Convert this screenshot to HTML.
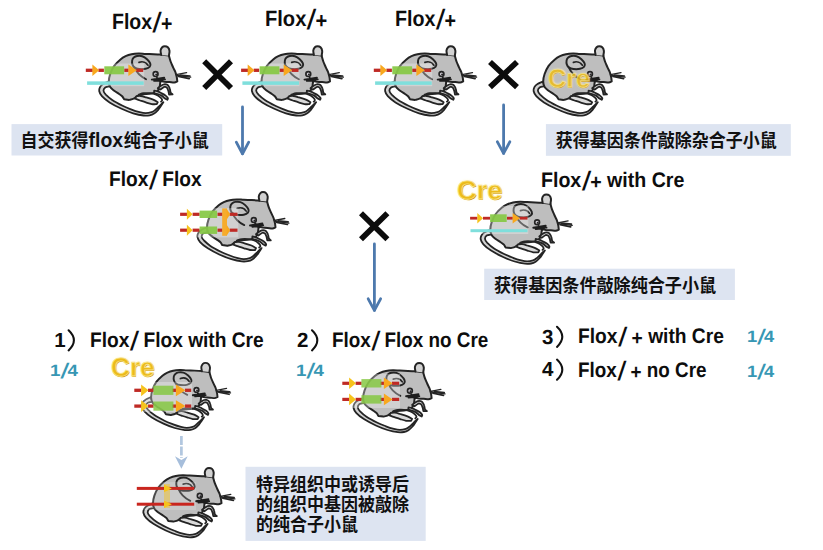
<!DOCTYPE html>
<html lang="zh"><head><meta charset="utf-8"><title>Flox / Cre breeding scheme</title>
<style>
html,body{margin:0;padding:0;background:#fff;}
body{width:823px;height:550px;position:relative;overflow:hidden;font-family:"Liberation Sans",sans-serif;}
svg{position:absolute;left:0;top:0;}
.t{position:absolute;white-space:pre;text-rendering:geometricPrecision;font-kerning:none;font-weight:bold;line-height:1;transform-origin:0 0;font-family:"Liberation Sans",sans-serif;}
.cre{-webkit-text-stroke:0.8px #f8e48c;text-shadow:0.6px 0.8px 0.4px #d09a14,0 0 3px rgba(255,246,200,.9);}
.on{opacity:.88;}
.sl{display:inline-block;transform:translateY(0.09em) scale(1.12,1.27) skewX(-13deg);transform-origin:50% 62%;margin:0 0.09em;}
.sq{margin:0 0.05em;}
.pl{display:inline-block;transform:translateY(0.1em);}
.cj{font-family:"Liberation Sans","Noto Sans CJK SC",sans-serif;font-weight:bold;fill:#111;}
</style></head><body>
<svg width="823" height="550" viewBox="0 0 823 550">
<defs>
<g id="mouse" stroke-linejoin="round" stroke-linecap="round" stroke="#242424">
 <path d="M543.0 81.5 C542.1 81.9 538.9 83.1 537.5 84.1 C536.1 85.0 535.0 86.0 534.4 87.2 C533.8 88.4 533.3 89.5 533.6 91.0 C533.9 92.5 534.6 94.3 536.3 96.2 C538.0 98.1 540.7 100.3 544.0 102.4 C547.3 104.5 552.1 107.0 556.0 108.8 C559.9 110.6 563.9 112.2 567.6 113.3 C571.3 114.4 575.3 115.2 578.0 115.5 C580.7 115.8 582.2 115.6 584.0 115.3 C585.8 115.0 587.1 114.5 588.5 113.6 C589.9 112.7 591.4 111.1 592.6 109.8 C593.8 108.5 594.7 106.9 595.6 105.6 C596.5 104.3 597.4 102.8 597.8 102.2 L596.6 103.2 C596.1 103.7 594.6 105.3 593.4 106.4 C592.2 107.5 590.8 109.0 589.6 110.0 C588.4 111.0 587.6 111.7 586.0 112.2 C584.4 112.7 582.0 113.2 580.0 113.2 C578.0 113.2 576.3 112.8 574.0 112.2 C571.7 111.6 568.8 110.7 566.0 109.6 C563.2 108.5 560.2 107.4 557.0 105.8 C553.8 104.2 549.4 101.9 546.6 100.0 C543.8 98.1 541.7 96.1 540.2 94.6 C538.8 93.1 538.0 92.0 537.9 90.8 C537.8 89.6 538.5 88.2 539.6 87.4 C540.7 86.6 543.7 86.4 544.5 86.2 Z" fill="#d2d2d2" stroke-width="1.8"/>
 <path d="M595.3 54.6 C594.1 54.5 590.5 54.3 588.0 54.2 C585.5 54.1 582.5 54.0 580.0 53.9 C577.5 53.8 575.3 53.4 573.0 53.5 C570.7 53.6 568.2 53.8 566.0 54.3 C563.8 54.8 561.9 55.4 560.0 56.2 C558.1 57.1 556.8 57.8 554.9 59.4 C553.0 61.0 550.3 63.4 548.6 65.8 C546.9 68.2 545.5 71.4 544.6 74.0 C543.7 76.6 543.2 79.4 543.2 81.6 C543.2 83.8 543.7 85.5 544.6 87.0 C545.5 88.5 547.1 89.6 548.6 90.8 C550.1 92.0 552.1 93.0 553.5 94.0 C554.9 95.0 556.0 95.6 556.8 96.5 C557.6 97.4 558.2 98.8 558.5 99.2 L563.5 99.9 C564.2 99.7 566.8 99.2 568.0 98.7 C569.2 98.2 569.7 97.3 571.0 96.6 C572.3 95.9 573.8 94.9 576.0 94.4 C578.2 93.9 581.7 94.1 584.0 93.8 C586.3 93.5 588.4 93.2 590.0 92.4 C591.6 91.6 592.8 90.1 593.5 88.8 C594.2 87.5 594.2 85.8 594.4 84.5 C594.6 83.2 594.7 81.5 594.8 80.9 L598.9 81.7 C599.7 81.8 602.2 82.0 603.8 82.1 C605.4 82.2 607.4 82.6 608.7 82.5 C610.0 82.4 611.2 81.6 611.7 81.4 L611.3 77.9 C611.2 77.4 610.8 75.7 610.5 74.6 C610.2 73.5 610.0 72.6 609.5 71.4 C609.0 70.2 608.2 69.0 607.5 67.3 C606.8 65.6 605.7 63.5 605.0 61.5 C604.3 59.5 603.6 56.6 603.3 55.6 Z" fill="#bebebe" stroke-width="2.0"/>
 <path d="M595.6 54.9 C595.5 54.1 594.8 51.7 595.0 50.4 C595.2 49.1 595.9 47.9 596.6 47.2 C597.3 46.5 598.3 46.2 599.2 46.2 C600.1 46.2 601.4 46.4 602.2 47.2 C603.0 48.0 603.7 49.4 603.9 50.8 C604.1 52.2 603.4 54.9 603.3 55.7" fill="#d2d2d2" stroke-width="2.0"/>
 <path d="M566.8 64.4 C566.4 63.2 566.4 61.5 566.6 60.4 C566.8 59.3 567.4 58.3 568.2 57.6 C569.0 56.9 570.1 56.2 571.5 56.0 C572.9 55.8 575.0 55.7 576.6 56.2 C578.2 56.7 580.1 58.0 581.4 59.2 C582.7 60.4 584.1 62.2 584.6 63.4 C585.1 64.6 585.0 65.7 584.2 66.6 C583.4 67.5 581.8 68.4 580.0 68.8 C578.2 69.2 575.4 69.2 573.5 69.0 C571.6 68.8 569.9 68.2 568.8 67.4 C567.7 66.6 567.2 65.6 566.8 64.4 Z" fill="#c3c3c3" stroke-width="1.95"/>
 <path d="M573.4 62.4 C577 61 580.6 62.4 582.4 65.2" fill="none" stroke-width="1.7"/>
 <path d="M568.8 67.4 C570.6 72 574.4 76.2 580.5 79.2" fill="none" stroke-width="1.8"/>
 <path d="M573.0 94.6 C573.8 94.4 576.2 93.4 578.0 93.2 C579.8 93.0 581.9 93.0 584.0 93.2 C586.1 93.4 588.7 93.9 590.5 94.6 C592.3 95.3 594.0 96.7 595.0 97.6 C596.0 98.5 596.5 99.5 596.6 100.2 C596.7 100.9 595.6 101.4 595.4 101.6" fill="none" stroke-width="1.8"/>
 <path d="M570.8 96.2 C571.5 96.2 573.4 95.8 575.0 96.0 C576.6 96.2 578.2 96.7 580.3 97.3 C582.4 97.9 585.6 98.8 587.6 99.6 C589.6 100.4 591.4 101.8 592.2 102.2 L591.2 104.2 C590.4 104.2 588.0 104.4 586.2 104.1 C584.4 103.8 582.2 103.0 580.3 102.4 C578.3 101.8 576.3 101.1 574.5 100.5 C572.7 99.9 570.4 99.0 569.6 98.7 Z" fill="#dadada" stroke-width="1.8"/>
 <path d="M588.6 90.6 C589.2 90.7 590.9 91.0 592.0 91.4 C593.1 91.8 593.7 92.1 595.0 92.8 C596.3 93.5 598.8 94.7 600.0 95.6 C601.2 96.5 602.0 97.5 602.3 98.2 C602.6 98.9 601.9 99.5 601.8 99.8 L599.2 98.4 C598.7 98.0 597.5 96.6 596.3 95.9 C595.1 95.2 593.3 94.5 592.0 94.0 C590.7 93.5 589.0 93.2 588.4 93.0 Z" fill="#d6d6d6" stroke-width="1.8"/>
 <path d="M592.2 88.2 C592.7 87.8 594.0 86.6 595.0 86.0 C596.0 85.4 597.0 84.8 597.9 84.5 C598.8 84.2 599.6 84.2 600.4 84.4 C601.1 84.6 601.8 84.7 602.4 85.4 C603.0 86.1 603.8 87.4 604.2 88.6 C604.7 89.8 604.6 91.6 605.1 92.6 C605.6 93.6 606.7 94.1 607.0 94.4 L603.5 94.5 C603.4 93.9 603.1 92.1 602.8 91.0 C602.4 89.9 601.9 88.5 601.4 87.8 C600.9 87.1 600.1 87.0 599.6 86.9 C599.1 86.8 599.0 86.6 598.2 87.1 C597.4 87.5 595.2 89.2 594.6 89.6 Z" fill="#d6d6d6" stroke-width="1.8"/>
 <circle cx="590.0" cy="74.1" r="2.4" fill="#d8d4dc" stroke-width="1.7"/>
 <circle cx="590.6" cy="74.6" r="1.0" fill="#242424" stroke="none"/>
 <path d="M586.2 79.6 L598.6 77.6 M588.6 80.8 L597 80.0 M591.4 77.8 L595 81.6 M592.6 79 L599.4 79.4" fill="none" stroke="#1e1e1e" stroke-width="1.9"/>
 <path d="M610.5 74.6 L621 72.6 M611.2 75.5 L625.1 77.2" fill="none" stroke-width="1.3"/>
 <path d="M614.5 75.0 L624.3 76.0 M613 76.4 L623.6 78.6" fill="none" stroke-width="1.7"/>
</g></defs><rect x="11.5" y="124.1" width="210.7" height="31.4" fill="#dde4f1"/><rect x="545.9" y="124.1" width="244.9" height="31.7" fill="#dde4f1"/><rect x="484.2" y="268.7" width="250.7" height="31.3" fill="#dde4f1"/><rect x="245.5" y="466.8" width="180.2" height="74.1" fill="#dde4f1"/><use href="#mouse" x="-434.4" y="0.0"/><use href="#mouse" x="-281.7" y="0.0"/><use href="#mouse" x="-148.5" y="0.0"/><use href="#mouse" x="0.0" y="0.0"/><use href="#mouse" x="-336.2" y="145.9"/><use href="#mouse" x="-52.9" y="148.2"/><use href="#mouse" transform="translate(205.7 362.3) scale(0.97) translate(-599.5 -45.6)"/><use href="#mouse" x="-180.1" y="316.7"/><use href="#mouse" x="-390.2" y="421.7"/><rect x="85.0" y="63.5" width="59.2" height="22.7" fill="#fff" opacity="0.3"/><rect x="85.8" y="68.65" width="7.0" height="3.3" fill="#bf2a25"/><rect x="98.4" y="68.65" width="5.5" height="3.3" fill="#bf2a25"/><rect x="124.3" y="68.65" width="4.3" height="3.3" fill="#bf2a25"/><rect x="136.2" y="68.65" width="7.0" height="3.3" fill="#bf2a25"/><rect x="104.3" y="66.3" width="19.8" height="8.0" fill="#86c843" opacity="0.92"/><path d="M92.4 64.5 L99.2 70.3 L92.4 76.1 Z" fill="#f8a81e"/><path d="M128.4 64.5 L136.8 70.3 L128.4 76.1 Z" fill="#f8a81e"/><rect x="87.1" y="81.35" width="56.6" height="3.5" fill="#7fdfdc"/><rect x="240.3" y="63.5" width="59.2" height="22.7" fill="#fff" opacity="0.3"/><rect x="241.1" y="68.65" width="7.0" height="3.3" fill="#bf2a25"/><rect x="253.7" y="68.65" width="5.5" height="3.3" fill="#bf2a25"/><rect x="279.6" y="68.65" width="4.3" height="3.3" fill="#bf2a25"/><rect x="291.5" y="68.65" width="7.0" height="3.3" fill="#bf2a25"/><rect x="259.6" y="66.3" width="19.8" height="8.0" fill="#86c843" opacity="0.92"/><path d="M247.7 64.5 L254.5 70.3 L247.7 76.1 Z" fill="#f8a81e"/><path d="M283.7 64.5 L292.1 70.3 L283.7 76.1 Z" fill="#f8a81e"/><rect x="242.4" y="81.35" width="56.6" height="3.5" fill="#7fdfdc"/><rect x="373.0" y="63.5" width="59.2" height="22.7" fill="#fff" opacity="0.3"/><rect x="373.8" y="68.65" width="7.0" height="3.3" fill="#bf2a25"/><rect x="386.4" y="68.65" width="5.5" height="3.3" fill="#bf2a25"/><rect x="412.3" y="68.65" width="4.3" height="3.3" fill="#bf2a25"/><rect x="424.2" y="68.65" width="7.0" height="3.3" fill="#bf2a25"/><rect x="392.3" y="66.3" width="19.8" height="8.0" fill="#86c843" opacity="0.92"/><path d="M380.4 64.5 L387.2 70.3 L380.4 76.1 Z" fill="#f8a81e"/><path d="M416.4 64.5 L424.8 70.3 L416.4 76.1 Z" fill="#f8a81e"/><rect x="375.1" y="81.35" width="56.6" height="3.5" fill="#7fdfdc"/><rect x="175.8" y="208.1" width="62.5" height="29.3" fill="#fff" opacity="0.3"/><rect x="180.1" y="212.70" width="6.9" height="3.2" fill="#bf2a25"/><rect x="192.6" y="212.70" width="7.0" height="3.2" fill="#bf2a25"/><rect x="217.5" y="212.70" width="4.9" height="3.2" fill="#bf2a25"/><rect x="229.6" y="212.70" width="7.9" height="3.2" fill="#bf2a25"/><rect x="199.6" y="210.6" width="17.5" height="7.4" fill="#86c843" opacity="0.92"/><path d="M186.9 208.8 L192.6 214.3 L186.9 219.8 Z" fill="#f6c31c"/><path d="M226.6 208.8 L230.2 214.3 L226.6 219.8 Z" fill="#f8a81e"/><rect x="180.1" y="228.60" width="6.9" height="3.2" fill="#bf2a25"/><rect x="192.6" y="228.60" width="7.0" height="3.2" fill="#bf2a25"/><rect x="217.5" y="228.60" width="4.9" height="3.2" fill="#bf2a25"/><rect x="229.6" y="228.60" width="7.9" height="3.2" fill="#bf2a25"/><rect x="199.6" y="226.5" width="17.5" height="7.4" fill="#86c843" opacity="0.92"/><path d="M186.9 224.7 L192.6 230.2 L186.9 235.7 Z" fill="#f6c31c"/><path d="M226.6 224.7 L230.2 230.2 L226.6 235.7 Z" fill="#f8a81e"/><rect x="222.2" y="208.4" width="4.8" height="27.4" fill="#f8a81e" opacity="0.92"/><rect x="464.0" y="206.0" width="64.3" height="28.0" fill="#fff" opacity="0.3"/><rect x="470.1" y="216.80" width="7.4" height="2.8" fill="#bf2a25"/><rect x="483.0" y="216.80" width="7.2" height="2.8" fill="#bf2a25"/><rect x="507.0" y="216.80" width="5.8" height="2.8" fill="#bf2a25"/><rect x="519.6" y="216.80" width="7.9" height="2.8" fill="#bf2a25"/><rect x="490.1" y="214.3" width="16.6" height="7.7" fill="#86c843" opacity="0.92"/><path d="M477.3 212.9 L483.0 218.2 L477.3 223.5 Z" fill="#f6c31c"/><path d="M512.6 212.9 L520.0 218.2 L512.6 223.5 Z" fill="#f8a81e"/><rect x="470.5" y="229.20" width="57.0" height="3.0" fill="#7fdfdc"/><rect x="132.0" y="382.0" width="60.0" height="30.0" fill="#fff" opacity="0.3"/><rect x="134.3" y="388.65" width="7.0" height="3.3" fill="#bf2a25"/><rect x="148.0" y="388.65" width="5.6" height="3.3" fill="#bf2a25"/><rect x="172.0" y="388.65" width="4.1" height="3.3" fill="#bf2a25"/><rect x="185.0" y="388.65" width="6.2" height="3.3" fill="#bf2a25"/><rect x="153.4" y="385.7" width="20.0" height="9.2" fill="#86c843" opacity="0.85"/><path d="M141.1 384.4 L148.5 390.3 L141.1 396.2 Z" fill="#f6c31c"/><path d="M175.9 384.4 L185.5 390.3 L175.9 396.2 Z" fill="#f8a81e"/><rect x="134.3" y="404.45" width="7.0" height="3.3" fill="#bf2a25"/><rect x="148.0" y="404.45" width="5.6" height="3.3" fill="#bf2a25"/><rect x="172.0" y="404.45" width="4.1" height="3.3" fill="#bf2a25"/><rect x="185.0" y="404.45" width="6.2" height="3.3" fill="#bf2a25"/><rect x="153.4" y="401.5" width="20.0" height="9.2" fill="#86c843" opacity="0.85"/><path d="M141.1 400.2 L148.5 406.1 L141.1 412.0 Z" fill="#f6c31c"/><path d="M175.9 400.2 L185.5 406.1 L175.9 412.0 Z" fill="#f8a81e"/><rect x="340.0" y="374.0" width="60.0" height="34.0" fill="#fff" opacity="0.3"/><rect x="342.3" y="381.70" width="7.0" height="3.2" fill="#bf2a25"/><rect x="355.6" y="381.70" width="6.0" height="3.2" fill="#bf2a25"/><rect x="380.0" y="381.70" width="4.1" height="3.2" fill="#bf2a25"/><rect x="392.0" y="381.70" width="7.2" height="3.2" fill="#bf2a25"/><rect x="361.4" y="379.1" width="20.0" height="8.4" fill="#86c843" opacity="0.85"/><path d="M349.1 377.5 L356.0 383.3 L349.1 389.1 Z" fill="#f6c31c"/><path d="M383.9 377.5 L392.6 383.3 L383.9 389.1 Z" fill="#f8a81e"/><rect x="342.3" y="397.80" width="7.0" height="3.2" fill="#bf2a25"/><rect x="355.6" y="397.80" width="6.0" height="3.2" fill="#bf2a25"/><rect x="380.0" y="397.80" width="4.1" height="3.2" fill="#bf2a25"/><rect x="392.0" y="397.80" width="7.2" height="3.2" fill="#bf2a25"/><rect x="361.4" y="395.2" width="20.0" height="8.4" fill="#86c843" opacity="0.85"/><path d="M349.1 393.6 L356.0 399.4 L349.1 405.2 Z" fill="#f6c31c"/><path d="M383.9 393.6 L392.6 399.4 L383.9 405.2 Z" fill="#f8a81e"/><rect x="134.0" y="482.0" width="62.0" height="28.0" fill="#fff" opacity="0.18"/><rect x="164" y="484" width="6" height="24" fill="#f6c31c" opacity="0.45"/><rect x="136.8" y="486.90" width="57.4" height="3.0" fill="#c9261f"/><path d="M164.0 484.6 L171.8 488.4 L164.0 492.2 Z" fill="#f6c31c"/><rect x="136.8" y="502.70" width="57.4" height="3.0" fill="#c9261f"/><path d="M164.0 500.4 L171.8 504.2 L164.0 508.0 Z" fill="#f6c31c"/><path d="M204.2 61.2 L231.0 88.0 M231.0 61.2 L204.2 88.0" stroke="#0c0c0c" stroke-width="5.7" fill="none" stroke-linecap="butt"/><path d="M490.0 62.0 L517.0 87.2 M517.0 62.0 L490.0 87.2" stroke="#0c0c0c" stroke-width="5.7" fill="none" stroke-linecap="butt"/><path d="M361.0 213.2 L387.4 239.2 M387.4 213.2 L361.0 239.2" stroke="#0c0c0c" stroke-width="5.7" fill="none" stroke-linecap="butt"/><g fill="none" stroke="#4d79ad" stroke-width="2.8" stroke-linecap="round" stroke-linejoin="round" ><path d="M242.5 107 L242.5 153.8"/><path d="M236.3 142.20000000000002 L242.5 153.8 L248.7 142.20000000000002"/></g><g fill="none" stroke="#4d79ad" stroke-width="2.8" stroke-linecap="round" stroke-linejoin="round" ><path d="M503.6 105 L503.6 153.4"/><path d="M497.40000000000003 141.8 L503.6 153.4 L509.8 141.8"/></g><g fill="none" stroke="#4d79ad" stroke-width="2.8" stroke-linecap="round" stroke-linejoin="round" ><path d="M374.4 244 L374.4 310.4"/><path d="M368.2 298.79999999999995 L374.4 310.4 L380.59999999999997 298.79999999999995"/></g><g opacity="0.9"><path d="M181.4 436 L181.4 458" stroke="#a9c1dc" stroke-width="2.7" stroke-dasharray="9 1.6" fill="none"/><path d="M175 456.2 L181.4 460 L187.7 456.2 L181.4 468.8 Z" fill="#9db8d8"/></g>
<g class="cj">
<text transform="translate(20.6 146.5) scale(1 1.05)" font-size="17">自交获得</text>
<text transform="translate(88.6 146.5) scale(1 1.05)" font-size="18.7" textLength="34.5" lengthAdjust="spacingAndGlyphs">flox</text>
<text transform="translate(123.66 146.5) scale(1 1.05)" font-size="17">纯合子小鼠</text>
<text transform="translate(555.8 146.7) scale(1 1.05)" font-size="17">获得基因条件敲除杂合子小鼠</text>
<text transform="translate(494 291.7) scale(1 1.05)" font-size="17.1">获得基因条件敲除纯合子小鼠</text>
<text transform="translate(256 490.8) scale(1 1.05)" font-size="17">特异组织中或诱导后</text>
<text transform="translate(256 511) scale(1 1.05)" font-size="17">的组织中基因被敲除</text>
<text transform="translate(256 531.2) scale(1 1.05)" font-size="17">的纯合子小鼠</text>
</g>
<path d="M68.6 330.3 Q79.2 340.3 68.6 350.4" fill="none" stroke="#111" stroke-width="2.1" stroke-linecap="round"/><path d="M312.0 330.3 Q322.6 340.3 312.0 350.4" fill="none" stroke="#111" stroke-width="2.1" stroke-linecap="round"/><path d="M557.0 326.8 Q567.6 336.8 557.0 346.9" fill="none" stroke="#111" stroke-width="2.1" stroke-linecap="round"/><path d="M557.0 359.6 Q567.6 369.6 557.0 379.7" fill="none" stroke="#111" stroke-width="2.1" stroke-linecap="round"/>
</svg>
<div class="t" style="left:112.1px;top:11.20px;font-size:22px;color:#0d0d0d;transform:scaleX(0.8862);">Flox<span class="sl">/</span><span class="pl">+</span></div><div class="t" style="left:265.2px;top:8.10px;font-size:22px;color:#0d0d0d;transform:scaleX(0.9141);">Flox<span class="sl">/</span><span class="pl">+</span></div><div class="t" style="left:394.5px;top:8.10px;font-size:22px;color:#0d0d0d;transform:scaleX(0.8950);">Flox<span class="sl">/</span><span class="pl">+</span></div><div class="t" style="left:109.4px;top:169.20px;font-size:21px;color:#0d0d0d;transform:scaleX(0.9108);">Flox<span class="sl">/</span> Flox</div><div class="t" style="left:541.3px;top:169.80px;font-size:21px;color:#0d0d0d;transform:scaleX(0.9322);">Flox<span class="sl">/</span><span class="pl">+</span> with Cre</div><div class="t" style="left:54.3px;top:331.00px;font-size:20.5px;color:#0d0d0d;">1</div><div class="t" style="left:89.5px;top:330.20px;font-size:21px;color:#0d0d0d;transform:scaleX(0.9120);">Flox<span class="sl">/</span> Flox with Cre</div><div class="t" style="left:296.9px;top:331.00px;font-size:20.5px;color:#0d0d0d;">2</div><div class="t" style="left:332.2px;top:330.20px;font-size:21px;color:#0d0d0d;transform:scaleX(0.8976);">Flox<span class="sl">/</span> Flox no Cre</div><div class="t" style="left:542.0px;top:327.50px;font-size:20.5px;color:#0d0d0d;">3</div><div class="t" style="left:577.5px;top:326.00px;font-size:21px;color:#0d0d0d;transform:scaleX(0.9144);">Flox<span class="sl">/</span> <span class="pl">+</span> with Cre</div><div class="t" style="left:541.9px;top:360.30px;font-size:20.5px;color:#0d0d0d;">4</div><div class="t" style="left:577.5px;top:359.50px;font-size:21px;color:#0d0d0d;transform:scaleX(0.8972);">Flox<span class="sl">/</span> <span class="pl">+</span> no Cre</div><div class="t" style="left:50.0px;top:363.30px;font-size:16.5px;color:#3797b4;transform:scaleX(1.1344);">1<span class="sl sq">/</span>4</div><div class="t" style="left:295.8px;top:362.80px;font-size:16.5px;color:#3797b4;transform:scaleX(1.1304);">1<span class="sl sq">/</span>4</div><div class="t" style="left:746.5px;top:328.60px;font-size:16.5px;color:#3797b4;transform:scaleX(1.1100);">1<span class="sl sq">/</span>4</div><div class="t" style="left:746.5px;top:363.50px;font-size:16.5px;color:#3797b4;transform:scaleX(1.1100);">1<span class="sl sq">/</span>4</div><div class="t cre on" style="left:548.3px;top:67.00px;font-size:25.5px;color:#ecbb1c;transform:scaleX(0.9875);">Cre</div><div class="t cre" style="left:457.0px;top:176.90px;font-size:26px;color:#ecbb1c;transform:scaleX(1.0471);">Cre</div><div class="t cre" style="left:110.7px;top:353.60px;font-size:26px;color:#ecbb1c;transform:scaleX(1.0079);">Cre</div>
</body></html>
